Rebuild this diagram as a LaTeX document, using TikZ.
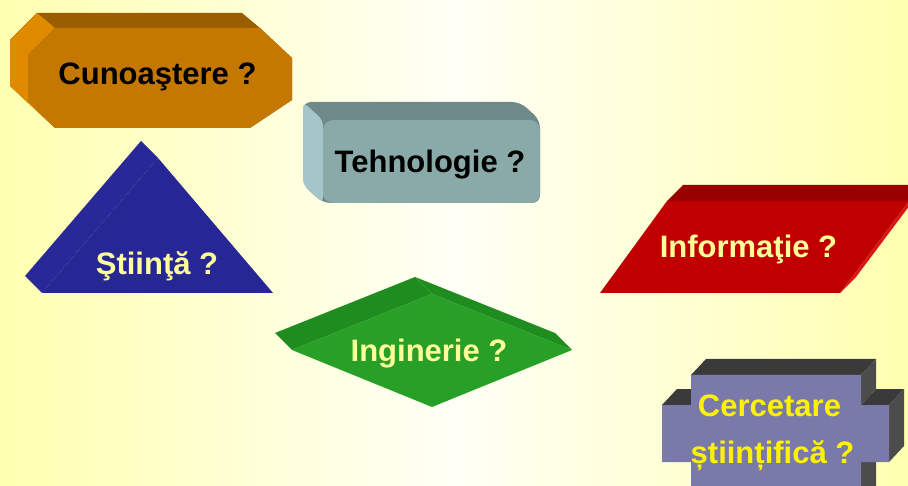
\documentclass[tikz,border=0pt]{standalone}
\usepackage{fontspec}
\setmainfont{Liberation Sans}
\definecolor{bgedge}{HTML}{FFFFB0}
\definecolor{bgmid}{HTML}{FFFFF6}
\definecolor{orfront}{HTML}{C47800}
\definecolor{ortop}{HTML}{9A5E00}
\definecolor{orside}{HTML}{E08A00}
\definecolor{tefront}{HTML}{8AAAAA}
\definecolor{tetop}{HTML}{6D8989}
\definecolor{teside}{HTML}{A4C6CA}
\definecolor{stfront}{HTML}{262694}
\definecolor{stside}{HTML}{282898}
\definecolor{rdfront}{HTML}{C00000}
\definecolor{rdtop}{HTML}{990000}
\definecolor{rdside}{HTML}{D81818}
\definecolor{gnfront}{HTML}{28A028}
\definecolor{gntop}{HTML}{1F8C1F}
\definecolor{cefront}{HTML}{7A7AAA}
\definecolor{cetop}{HTML}{3A3A3A}
\definecolor{ceside}{HTML}{4C4C4C}
\definecolor{paleyellow}{HTML}{FFFF99}
\begin{document}
\begin{tikzpicture}[x=1pt,y=-1pt,
  question/.style={font=\bfseries\fontsize{31}{36}\selectfont,anchor=base}]
\useasboundingbox (0,0) rectangle (908,486);
\clip (0,0) rectangle (908,486);
\shade[left color=bgedge,right color=bgedge,middle color=bgmid] (0,0) rectangle (908,486);
% octagon block
\fill[color=ortop] (37,13)--(242,13)--(260,28)--(292,58)--(292,100)--(250,128)--(55,128)--(10,86)--(10,40)--cycle;
\fill[color=orside] (10,40)--(37,13)--(55,28)--(28,55)--(28,101)--(55,128)--(10,86)--cycle;
\fill[color=orfront] (55,28)--(260,28)--(292,58)--(292,100)--(250,128)--(55,128)--(28,101)--(28,55)--cycle;
% rounded box
\fill[color=tetop,rounded corners=8] (303,102)--(520,102)--(540,120)--(540,203)--(323,203)--(303,185)--cycle;
\fill[color=teside,rounded corners=6] (303,102)--(323,120)--(323,203)--(303,185)--cycle;
\fill[color=tefront,rounded corners=10] (323,120) rectangle (540,203);
% triangle
\fill[color=stside] (25,276)--(141,141)--(158,158)--(42,293)--cycle;
\fill[color=stfront] (42,293)--(273,293)--(158,158)--cycle;
% parallelogram
\fill[color=rdtop] (667,201)--(683,185)--(925,185)--(909,201)--cycle;
\fill[color=rdside] (840,293)--(909,201)--(925,185)--(856,277)--cycle;
\fill[color=rdfront] (600,293)--(840,293)--(909,201)--(667,201)--cycle;
% diamond
\fill[color=gntop] (275,333)--(415,277)--(432,294)--(292,350)--cycle;
\fill[color=gntop] (415,277)--(555,333)--(572,350)--(432,294)--cycle;
\fill[color=gnfront] (292,350)--(432,294)--(572,350)--(432,407)--cycle;
% cross
\fill[color=cetop] (691,375)--(706,359)--(876,359)--(861,375)--cycle;
\fill[color=cetop] (662,405)--(677,389)--(706,389)--(691,405)--cycle;
\fill[color=cetop] (861,405)--(876,389)--(904,389)--(889,405)--cycle;
\fill[color=ceside] (861,375)--(876,359)--(876,389)--(861,405)--cycle;
\fill[color=ceside] (889,405)--(904,389)--(904,446)--(889,462)--cycle;
\fill[color=ceside] (861,462)--(876,446)--(876,504)--(861,520)--cycle;
\fill[color=cefront] (691,375)--(861,375)--(861,405)--(889,405)--(889,462)--(861,462)--(861,520)--(691,520)--(691,462)--(662,462)--(662,405)--(691,405)--cycle;
\node[question,text=black] (cunoastere) at (157.5,85) {Cunoaştere ?};
\node[question,text=black] (tehnologie) at (430,173) {Tehnologie ?};
\node[question,text=paleyellow] (stiinta) at (157,275) {Ştiinţă ?};
\node[question,text=paleyellow] (informatie) at (748.5,258) {Informaţie ?};
\node[question,text=paleyellow] (inginerie) at (429,362) {Inginerie ?};
\node[question,text=yellow] (cercetare) at (769.5,417) {Cercetare};
\node[question,text=yellow] (stiintifica) at (772.5,463) {științifică ?};
\end{tikzpicture}
\end{document}
